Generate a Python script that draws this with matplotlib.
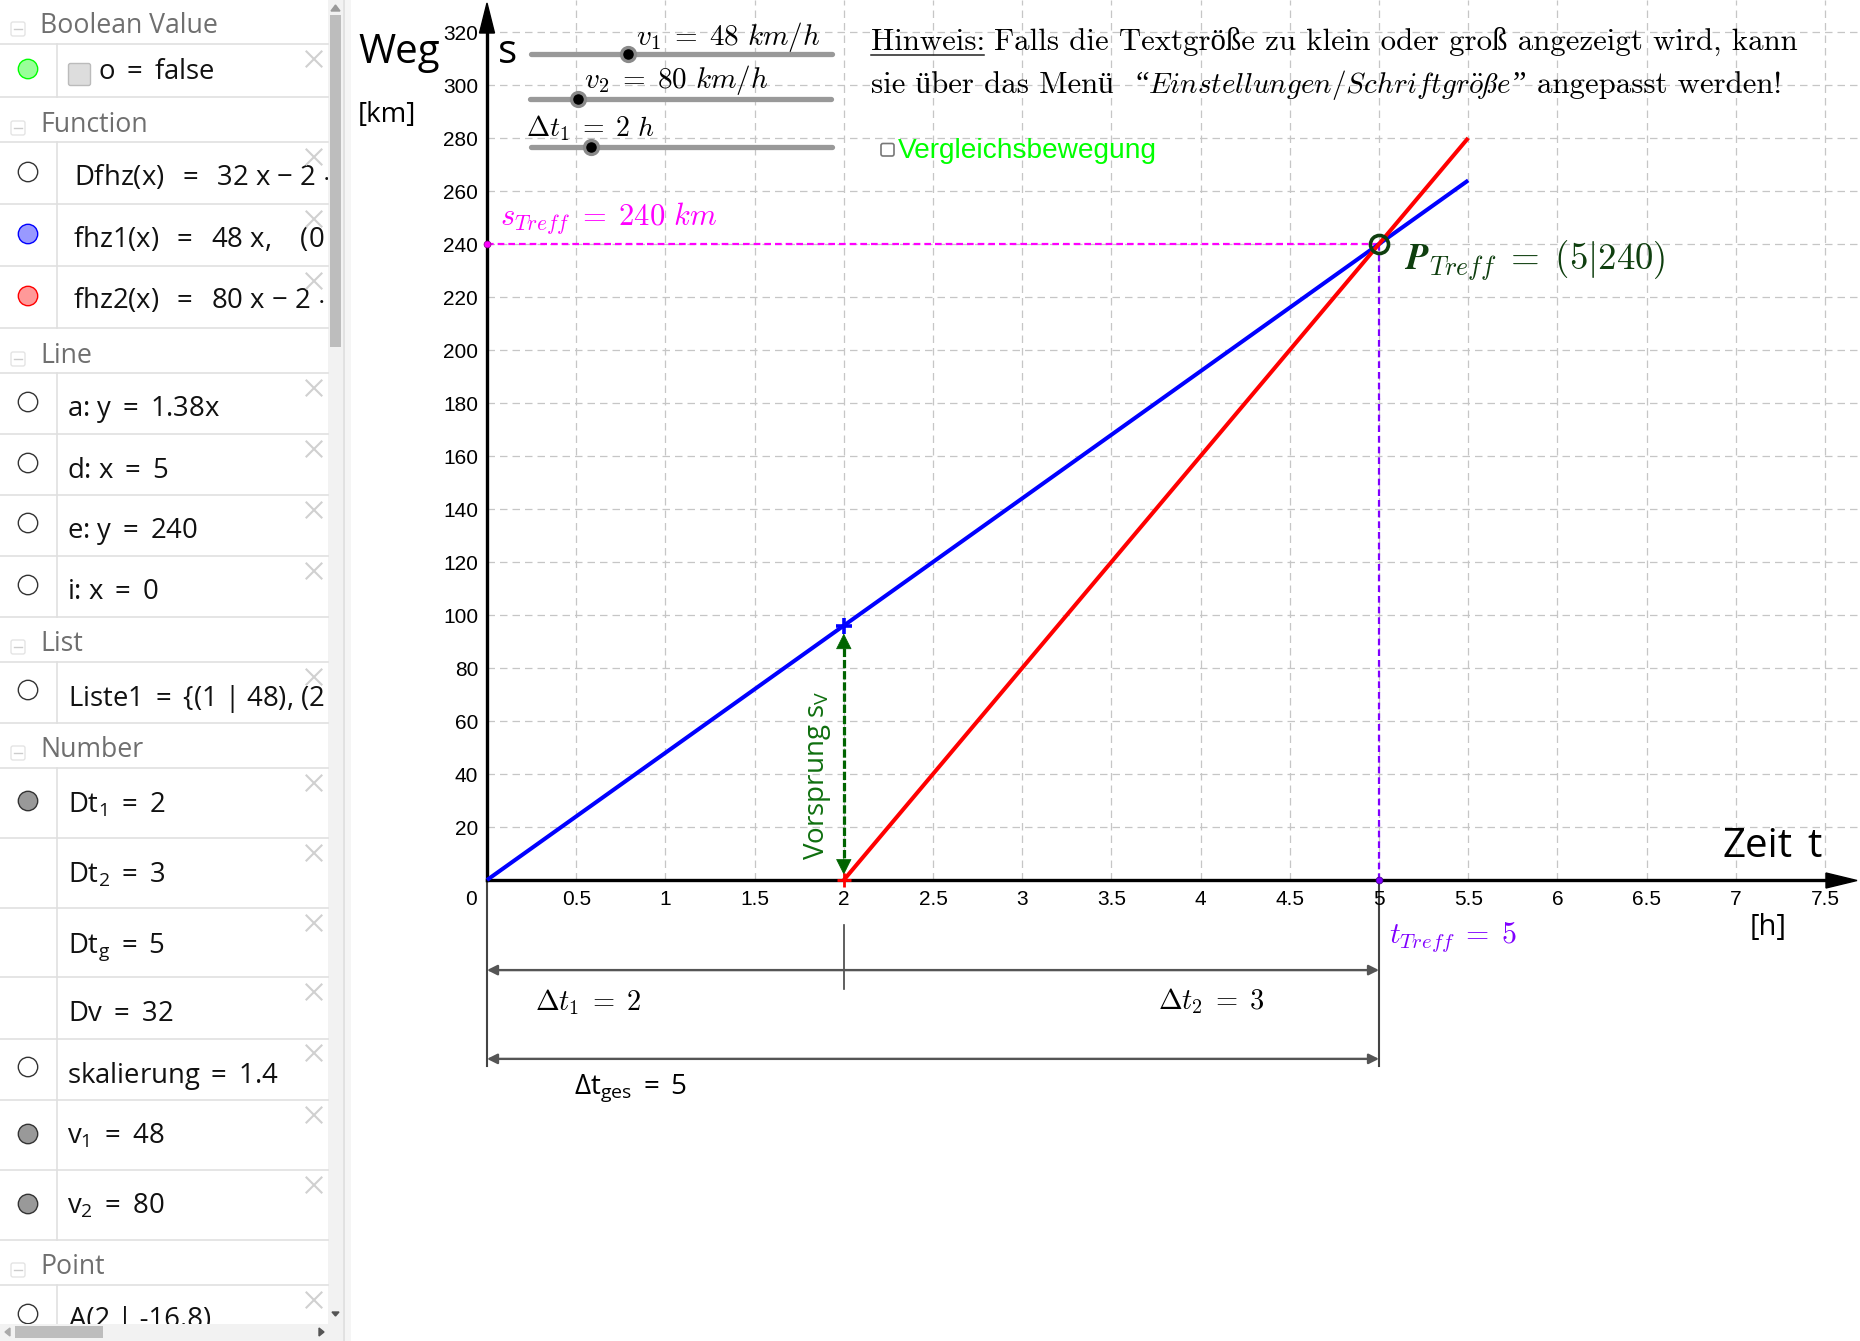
import matplotlib
matplotlib.use("Agg")
from matplotlib import pyplot as plt
from matplotlib.patches import Rectangle, Circle, FancyBboxPatch

plt.rcParams['mathtext.fontset'] = 'custom'
plt.rcParams['mathtext.rm'] = 'Open Sans'
plt.rcParams['mathtext.it'] = 'Open Sans:italic'
plt.rcParams['mathtext.bf'] = 'Open Sans:bold'
plt.rcParams['mathtext.sf'] = 'Open Sans'
plt.rcParams['font.family'] = 'Open Sans'

# chart data
dt1 = 2
t_end = 5.5
t_treff = 5
s_treff = 240
blue_t = [0, dt1, t_treff, t_end]
blue_s = [0, 96, 240, 264]
red_t = [dt1, t_treff, t_end]
red_s = [0, 240, 280]
x_ticks = [0.5, 1, 1.5, 2, 2.5, 3, 3.5, 4, 4.5, 5, 5.5, 6, 6.5, 7, 7.5]
x_labels = ['0.5', '1', '1.5', '2', '2.5', '3', '3.5', '4', '4.5', '5', '5.5', '6', '6.5', '7', '7.5']
y_ticks = [20, 40, 60, 80, 100, 120, 140, 160, 180, 200, 220, 240, 260, 280, 300, 320]
dim_levels = [-34, -67.5]
dim_labels = [r'$\Delta t_1 \;=\; 2$', r'$\Delta t_2 \;=\; 3$']

# algebra panel
eq = ' $\\;=\\;$ '
eq2 = ' $=$ '
headers = ['Boolean Value', 'Function', 'Line', 'List', 'Number', 'Point']
header_base = [33, 132, 363, 651, 757, 1274]
row_text = ['o' + eq2 + 'false', 'Dfhz(x)' + eq + '32 x $-$ 2 $\\cdot$ 32', 'fhz1(x)' + eq + '48 x,    (0', 'fhz2(x)' + eq + '80 x $-$ 2 $\\cdot$ 80',
            'a: y' + eq2 + '1.38x', 'd: x' + eq2 + '5', 'e: y' + eq2 + '240', 'i: x' + eq2 + '0', 'Liste1' + eq2 + '{(1 | 48), (2',
            'Dt$_1$' + eq2 + '2', 'Dt$_2$' + eq2 + '3', 'Dt$_\\mathrm{g}$' + eq2 + '5', 'Dv' + eq2 + '32', 'skalierung' + eq2 + '1.4',
            'v$_1$' + eq2 + '48', 'v$_2$' + eq2 + '80', 'A(2 | -16.8)']
row_x = [98, 73.5, 73, 73, 67, 67, 67, 67, 68, 68, 68, 68, 68, 67, 67, 67, 69]
row_base = [79, 185, 247, 308, 416, 478, 538, 599, 706, 812, 882, 952, 1021, 1083, 1143, 1213, 1327]
marble_y = [69, 172, 234, 296, 402, 463, 523, 585, 690, 801, None, None, None, 1067, 1134, 1204, 1314]
marble_fill = ['#99ff99', 'white', '#9999ff', '#ff9999', 'white', 'white', 'white', 'white', 'white', '#999999',
               None, None, None, 'white', '#999999', '#999999', 'white']
marble_edge = ['#00ff00', '#333333', '#0000ff', '#ff0000', '#333333', '#333333', '#333333', '#333333', '#333333', '#333333',
               None, None, None, '#333333', '#333333', '#333333', '#333333']
close_y = [59, 157, 219, 281, 388, 449, 510, 571, 677, 783, 853, 923, 992, 1053, 1115, 1185, 1300]
row_lines = [44, 97, 142, 204, 266, 328, 373, 434, 495, 556, 617, 662, 723, 768, 838, 908, 977, 1039, 1100, 1170, 1240, 1285]

fig = plt.figure(figsize=(18.6, 13.41), dpi=100)

px = 178.4
py = 2.65
ax = fig.add_axes([487/1860, (1341-880)/1341, (1860-487)/1860, 880/1341])
ax.set_xlim(0, (1860-487)/px)
ax.set_ylim(0, 880/py)
ax.set_xticks(x_ticks)
ax.set_yticks(y_ticks)
ax.grid(True, color='#c6c6c6', linestyle=(0, (6, 4)), linewidth=0.9)
ax.set_axisbelow(True)
ax.tick_params(length=0, labelleft=False, labelbottom=False)
for k in ['top', 'right']:
    ax.spines[k].set_visible(False)
ax.spines['left'].set_linewidth(2.4)
ax.spines['bottom'].set_linewidth(2.4)
ax.spines['left'].set_bounds(0, 325)
ax.spines['bottom'].set_bounds(0, 7.55)

ax.plot([0, t_treff], [s_treff, s_treff], color='#ff00ff', lw=1.6, ls=(0, (3, 1.8)), zorder=3)
ax.plot([t_treff, t_treff], [0, s_treff], color='#8000ff', lw=1.6, ls=(0, (3, 1.8)), zorder=3)
ax.plot(blue_t, blue_s, color='#0000ff', lw=2.9, solid_capstyle='butt', zorder=4, clip_on=False)
ax.plot(red_t, red_s, color='#ff0000', lw=2.9, solid_capstyle='butt', zorder=5, clip_on=False)
ax.plot([0], [s_treff], 'o', color='#ff00ff', ms=5, mec='#800080', mew=.5, clip_on=False, zorder=6)
ax.plot([t_treff], [0], 'o', color='#8000ff', ms=5, mec='#400080', mew=.5, clip_on=False, zorder=6)
ax.plot([t_treff], [s_treff], 'o', mfc='none', mec='#0f3f0f', ms=13, mew=2.6, zorder=7)
ax.plot([dt1], [96], '+', color='#0000ff', ms=12, mew=2.6, zorder=7, clip_on=False)
ax.plot([dt1], [0], '+', color='#ff0000', ms=10, mew=2, zorder=7, clip_on=False)

# head start arrow, dashed shaft with two separate heads
ax.plot([dt1, dt1], [4, 90], color='#006400', lw=2.3, ls=(0, (2.6, 0.9)), zorder=6)
for tip, tail in [(93, 85), (2, 10)]:
    ax.annotate('', xy=(dt1, tip), xytext=(dt1, tail), zorder=6,
                arrowprops=dict(arrowstyle='-|>', color='#006400', lw=0.5, shrinkA=0, shrinkB=0, mutation_scale=26))

# dimension lines under the axis
for xv in [0, 5]:
    ax.plot([xv, xv], [0, -70], color='#444444', lw=1.5, clip_on=False, zorder=2)
ax.plot([dt1, dt1], [-17, -41], color='#444444', lw=1.2, clip_on=False, zorder=2)
for lev in dim_levels:
    ax.annotate('', xy=(0, lev), xytext=(5, lev), annotation_clip=False,
                arrowprops=dict(arrowstyle='<|-|>', color='#555555', lw=1.7, shrinkA=0, shrinkB=0, mutation_scale=15))

# overlay in pixel coordinates
ov = fig.add_axes([0, 0, 1, 1], facecolor='none')
ov.set_xlim(0, 1860)
ov.set_ylim(1341, 0)
ov.axis('off')

# axis arrow heads
ov.fill([487, 479.5, 494.5], [3, 33, 33], color='black', zorder=8)
ov.fill([1857, 1826, 1826], [880.5, 873, 888], color='black', zorder=8)

# tick labels
for t, lab in zip(x_ticks, x_labels):
    ov.text(487 + t*px, 904.5, lab, fontsize=15, family='Liberation Sans', ha='center', va='baseline')
for t in y_ticks:
    ov.text(478, 880 - t*py + 8, str(t), fontsize=15, family='Liberation Sans', ha='right', va='baseline')
ov.text(471, 904.5, '0', fontsize=15, family='Liberation Sans', ha='center', va='baseline')

# axis captions
ov.text(358, 63, 'Weg', fontsize=29, va='baseline')
ov.text(498, 63, 's', fontsize=29, va='baseline')
ov.text(358, 122, '[km]', fontsize=20, va='baseline')
ov.text(1722, 857, 'Zeit', fontsize=29, va='baseline')
ov.text(1807, 857, 't', fontsize=29, va='baseline')
ov.text(1750, 935, '[h]', fontsize=21, va='baseline')

# sliders
slider_x = [(531, 832), (530, 831), (531, 832)]
slider_y = [54, 99, 147]
slider_knob = [627.5, 578, 591]
for (a, b), yy, k in zip(slider_x, slider_y, slider_knob):
    ov.plot([a, b], [yy, yy], color='#999999', lw=3.8, solid_capstyle='round', zorder=3)
    ov.plot([k], [yy], 'o', color='#000000', ms=10, mec='#8a8a8a', mew=2.4, zorder=4)

cm_family = ['cmr10', 'Liberation Serif']

def cm(x, y, s, size=20, color='black', **kw):
    return ov.text(x, y, s, fontsize=size, color=color, math_fontfamily='cm', family=cm_family, va='baseline', zorder=9, **kw)

cm(636, 45, r'$v_1 \;=\; 48\ km/h$', 21)
cm(584, 88, r'$v_2 \;=\; 80\ km/h$', 21)
cm(526, 136, r'$\Delta t_1 \;=\; 2\ h$', 20)

# note
cm(871, 50, 'Hinweis:', 22.2)
ov.plot([871, 984], [55, 55], color='#222222', lw=1.1, zorder=9)
cm(994, 50, 'Falls die Textgröße zu klein oder groß angezeigt wird, kann', 22.2)
cm(871, 93, 'sie über das Menü', 22.2)
cm(1135, 93, '“', 22)
cm(1148, 93, r'$Einstellungen/Schriftgr\ddot{o}ße$', 21)
cm(1513, 93, '”', 22)
cm(1537, 93, 'angepasst werden!', 22.2)

# checkbox
ov.add_patch(FancyBboxPatch((881, 143.5), 13, 12.5, boxstyle='round,pad=0,rounding_size=2', fc='white', ec='#777777', lw=1.2, zorder=6))
ov.text(898, 158, 'Vergleichsbewegung', fontsize=20.2, family='Liberation Sans', color='#00ff00', va='baseline', zorder=9)

# labels
cm(500, 225, r'$s_{Treff} \;=\; 240\ km$', 22, '#ff00ff')
cm(1404, 270, r'$\boldsymbol{P}_{Treff} \;=\; (5|240)$', 26.5, '#0f3f0f')
cm(1389, 943, r'$t_{Treff} \;=\; 5$', 21.5, '#8000ff')
cm(535, 1010, dim_labels[0], 20.5)
cm(1158, 1009, dim_labels[1], 20.5)
ov.text(574, 1093, r'$\Delta$t$_\mathrm{ges}$$\;=\;$5', fontsize=20, va='baseline', zorder=9)
ov.text(824, 860, 'Vorsprung s$_\\mathrm{V}$', fontsize=20, color='#0f6f0f', rotation=90, ha='left', va='baseline',
        rotation_mode='anchor', zorder=9)

# panel background
ov.add_patch(Rectangle((0, 0), 328, 1341, fc='white', ec='none', zorder=1))
ov.add_patch(Rectangle((328, 0), 15, 1341, fc='#f2f2f2', ec='none', zorder=1))
ov.plot([343.5, 343.5], [0, 1341], color='#dddddd', lw=1.2, zorder=2)
ov.add_patch(Rectangle((344, 0), 7, 1341, fc='#f5f5f5', ec='none', zorder=1))
ov.add_patch(Rectangle((330, 15), 11, 332, fc='#bdbdbd', ec='none', zorder=2))
ov.fill([331, 340, 335.5], [11, 11, 5], color='#9a9a9a', zorder=2)
ov.fill([332, 339, 335.5], [1312, 1312, 1316], color='#555555', zorder=2)
ov.add_patch(Rectangle((0, 1324), 343, 17, fc='#f2f2f2', ec='none', zorder=3))
ov.add_patch(Rectangle((15, 1326), 88, 12, fc='#bdbdbd', ec='none', zorder=4))
ov.fill([5, 10, 10], [1332, 1328, 1336], color='#aaaaaa', zorder=4)
ov.fill([324, 319, 319], [1332, 1328, 1336], color='#555555', zorder=4)

clip = Rectangle((0, 0), 328, 1324, transform=ov.transData)
for yy in row_lines:
    ov.plot([0, 328], [yy, yy], color='#e0e0e0', lw=1.2, zorder=2)
for a, b in [(44, 97), (142, 328), (373, 617), (662, 723), (768, 1240), (1285, 1324)]:
    ov.plot([56.5, 56.5], [a, b], color='#e0e0e0', lw=1.2, zorder=2)

for name, yy in zip(headers, header_base):
    ov.text(40, yy, name, fontsize=19.2, color='#6f6f6f', va='baseline', zorder=5)
    ov.add_patch(FancyBboxPatch((11, yy-11), 14, 14, boxstyle='round,pad=0,rounding_size=2', fc='white', ec='#e4e4e4', lw=1, zorder=5))
    ov.plot([14, 22], [yy-4, yy-4], color='#cccccc', lw=1, zorder=6)

for s, x, yb in zip(row_text, row_x, row_base):
    t = ov.text(x, yb, s, fontsize=19.8, color='#111111', va='baseline', zorder=5, math_fontfamily='custom')
    t.set_clip_path(clip)
    t.set_clip_on(True)

for yy, fc, ec in zip(marble_y, marble_fill, marble_edge):
    if yy is None:
        continue
    c = Circle((28, yy), 9.7, fc=fc, ec=ec, lw=1, zorder=5)
    ov.add_patch(c)
    c.set_clip_path(clip)

for yy in close_y:
    ov.plot([306.5, 321.5], [yy-7.5, yy+7.5], color='#d0d0d0', lw=1.5, zorder=6)
    ov.plot([306.5, 321.5], [yy+7.5, yy-7.5], color='#d0d0d0', lw=1.5, zorder=6)

ov.add_patch(FancyBboxPatch((68.5, 63.5), 22, 22, boxstyle='round,pad=0,rounding_size=2', fc='#dddddd', ec='#bbbbbb', lw=1, zorder=5))

fig.savefig('out.png', dpi=100)
